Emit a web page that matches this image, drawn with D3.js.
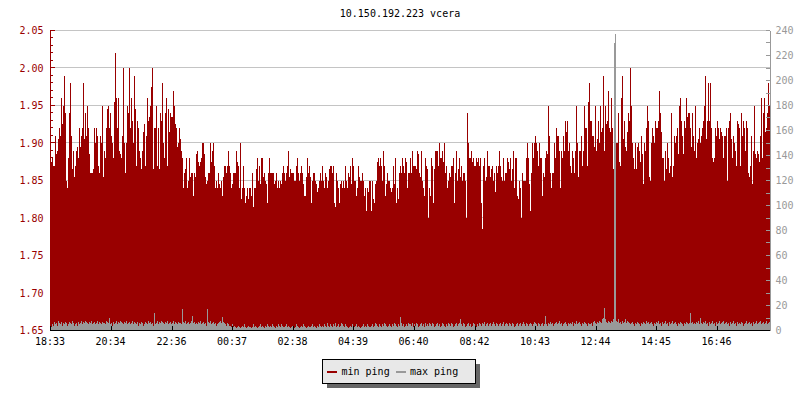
<!DOCTYPE html>
<html><head><meta charset="utf-8">
<script src="https://cdn.jsdelivr.net/npm/d3@7"></script>
<style>
body{margin:0;background:#fff}
text{font-family:"DejaVu Sans Mono",monospace;font-size:10px}
</style>
</head><body><svg id="c" width="800" height="400"></svg>
<script>
const title = "10.150.192.223 vcera";
const seriesNames = ["min ping", "max ping"];
const tickLabels = ["18:33","20:34","22:36","00:37","02:38","04:39","06:40","08:42","10:43","12:44","14:45","16:46"];
const leftTicks = [1.65,1.70,1.75,1.80,1.85,1.90,1.95,2.00,2.05];
const rightTicks = [0,20,40,60,80,100,120,140,160,180,200,220,240];
const stepMinutes = 2;
const spanMinutes = 1440;
const minPing = [
1.875,1.875,1.88,1.87,1.87,
1.91,1.885,1.89,1.905,1.92,1.91,1.96,1.925,1.95,1.99,
1.94,1.85,1.84,1.88,1.94,1.98,1.91,1.865,1.89,1.855,
1.87,1.89,1.895,1.88,1.92,1.895,1.91,1.92,1.98,1.905,
1.94,1.91,1.95,1.92,1.885,1.86,1.86,1.86,1.865,1.92,
1.90,1.92,1.91,1.87,1.86,1.91,1.90,1.95,1.855,1.89,
1.88,1.92,1.945,1.95,1.92,1.94,1.91,1.90,1.88,1.955,
2.02,1.96,1.92,1.96,1.89,1.885,1.88,1.91,2.00,1.90,
1.86,1.90,
1.95,1.94,2.00,1.92,1.96,1.93,1.90,1.99,1.945,1.87,
1.93,1.92,1.89,1.88,1.865,1.89,1.915,1.925,1.87,1.91,
1.96,1.93,1.935,1.95,1.975,2.00,1.865,1.92,1.92,1.95,
1.87,1.92,1.865,1.94,1.93,1.98,1.90,1.88,1.94,1.96,
1.87,1.945,1.915,1.94,1.935,1.935,1.97,1.95,1.925,1.92,
1.895,1.90,1.92,1.905,1.89,1.88,1.84,1.86,1.865,1.88,
1.84,1.85,1.88,1.855,1.86,1.86,1.83,1.86,1.855,1.885,
1.89,1.875,1.87,1.875,1.88,1.90,1.90,1.885,1.855,1.845,
1.85,1.86,1.86,1.90,1.875,1.89,1.90,1.87,1.84,1.85,
1.84,1.86,1.845,1.84,1.85,1.83,1.855,1.87,1.87,1.86,
1.87,1.89,1.87,
1.86,1.84,1.845,1.86,1.86,1.86,1.89,1.875,1.87,1.84,
1.90,1.825,1.84,1.87,1.84,1.82,1.83,1.84,1.825,1.84,
1.84,1.83,1.86,1.815,1.84,1.84,1.865,1.88,1.85,1.87,
1.845,1.88,1.88,1.855,1.86,1.85,1.845,1.82,1.86,1.88,
1.86,1.86,1.86,1.86,1.845,1.85,1.86,1.84,1.85,1.84,
1.85,1.845,1.86,1.87,1.86,1.85,1.86,1.87,1.89,1.855,
1.865,1.86,1.86,1.86,1.85,1.85,1.87,1.88,1.86,1.85,
1.86,1.87,1.86,1.845,1.83,1.83,1.855,1.88,1.86,1.87,
1.855,1.82,1.85,1.86,1.86,1.85,1.845,1.835,1.84,1.85,
1.86,1.85,1.87,1.85,1.84,1.86,1.855,1.84,1.85,1.865,
1.87,1.87,1.86,1.87,1.82,1.815,1.86,1.85,1.84,1.82,
1.845,1.85,1.84,1.85,1.84,1.87,1.85,1.84,1.86,1.855,
1.87,1.845,1.88,1.87,1.85,1.85,1.83,1.84,1.87,1.855,
1.85,1.85,1.86,1.85,1.83,1.84,1.81,1.84,1.835,1.85,
1.85,1.81,1.85,1.825,1.82,1.845,1.85,1.875,1.88,1.87,
1.88,1.87,1.85,1.89,1.87,1.83,1.845,1.86,1.85,1.85,
1.84,1.835,1.84,1.87,1.845,1.88,1.82,1.84,1.825,1.86,
1.87,1.86,1.88,1.87,1.86,1.88,1.875,1.84,1.86,1.86,
1.88,1.86,1.89,1.87,1.87,1.87,1.865,1.89,1.885,1.86,
1.855,1.89,1.85,1.84,1.83,1.88,1.87,1.865,1.80,1.84,
1.83,1.88,1.87,1.82,1.865,1.89,1.89,1.89,1.87,1.90,
1.88,1.88,1.89,1.875,1.90,1.86,1.87,1.84,1.85,1.86,
1.855,1.87,1.87,1.88,1.82,1.86,1.89,1.85,1.865,1.88,
1.855,1.87,1.85,1.86,1.86,1.85,1.80,1.94,1.90,1.88,
1.88,1.89,1.875,1.88,1.87,1.87,1.88,1.875,1.88,1.87,
1.88,1.82,1.785,1.87,1.88,1.85,1.855,1.89,1.87,1.87,
1.855,1.865,1.87,1.85,1.86,1.835,1.87,1.86,1.87,1.89,
1.87,1.855,1.85,1.88,1.85,1.86,1.86,1.88,1.875,1.865,
1.88,1.85,1.865,1.89,1.84,1.88,1.88,1.83,1.825,1.85,
1.84,1.80,1.86,1.85,1.85,1.85,1.88,1.90,1.88,1.845,
1.81,1.86,1.90,1.88,1.90,1.91,1.90,1.89,1.87,1.90,
1.88,1.88,1.83,1.86,1.855,1.88,1.89,1.885,1.95,1.91,
1.86,1.84,1.86,1.86,1.90,1.88,1.92,1.91,1.91,1.89,
1.84,1.89,1.88,1.91,1.89,1.93,1.915,1.93,1.89,1.90,
1.87,1.86,1.89,1.88,1.86,1.89,1.95,1.90,1.855,1.89,
1.89,1.91,1.87,1.89,1.95,1.92,1.92,1.87,1.955,1.98,
1.93,1.93,1.91,1.91,1.895,1.95,1.89,1.905,1.93,1.90,
1.95,1.915,1.92,1.99,1.89,1.95,1.925,1.93,1.97,1.92,
1.915,1.96,1.92,1.865,1.87,1.87,1.90,1.90,1.94,1.875,
1.87,1.96,1.99,1.905,1.93,1.895,1.89,1.915,1.94,1.93,
2.00,1.95,1.90,1.88,1.865,1.90,1.865,1.895,1.90,1.89,
1.875,1.91,1.885,1.845,1.90,1.89,1.92,1.95,1.93,1.855,
1.85,1.90,1.92,1.91,1.90,1.93,1.92,1.92,1.93,1.97,
1.94,1.915,1.88,1.88,1.85,1.89,1.865,1.90,1.88,1.86,
1.87,1.94,1.855,1.87,1.91,1.90,1.91,1.92,1.885,1.95,
1.96,1.93,1.91,1.885,1.93,1.92,1.96,1.935,1.94,1.94,
1.92,1.895,1.94,1.91,1.89,1.95,1.88,1.90,1.905,1.92,
1.90,1.91,1.92,1.93,1.95,1.99,1.905,1.93,1.98,1.93,
1.98,1.92,1.88,1.875,1.88,1.92,1.91,1.93,1.92,1.905,
1.92,1.915,1.91,1.88,1.91,1.91,1.92,1.85,1.92,1.93,
1.94,1.905,1.88,1.91,1.90,1.89,1.87,1.93,1.925,1.92,
1.87,1.94,1.91,1.93,1.92,1.89,1.93,1.92,1.86,1.855,
1.87,1.91,1.845,1.89,1.95,1.885,1.88,1.89,1.885,1.875,
1.91,1.96,1.88,1.94,1.96,1.915,1.92,1.94,1.98,1.95
];
const maxPing = [
5,3,6,4,7,5,6,4,8,6,5,7,4,6,5,7,6,4,5,7,
6,5,8,6,4,5,6,4,7,5,6,8,5,7,6,8,7,6,5,7,
6,8,5,6,7,5,6,8,5,7,6,5,7,6,6,5,8,7,6,10,
5,6,4,7,5,6,8,5,7,6,8,7,6,5,7,6,8,5,6,7,
5,6,8,5,7,6,5,7,4,6,5,7,6,4,5,7,6,5,8,6,
7,5,6,4,14,5,6,8,5,7,6,8,7,6,5,7,6,8,5,6,
7,5,6,8,5,7,6,5,7,6,6,5,17,7,6,8,5,6,7,5,
6,8,12,6,7,5,6,5,7,6,8,5,6,7,5,6,4,17,7,6,
8,5,6,7,5,6,4,5,6,7,8,6,11,7,6,5,4,6,5,4,
4,3,5,3,4,3,2,3,4,3,2,3,4,3,5,3,2,3,4,3,
3,2,3,5,3,4,3,2,3,4,5,3,4,3,2,4,3,5,4,3,
4,3,5,4,3,2,4,3,5,4,3,5,4,3,3,4,5,3,4,3,
2,3,4,3,2,3,5,4,3,2,3,4,3,5,4,3,2,3,4,3,
3,4,5,3,4,3,2,4,3,5,4,3,4,3,5,4,3,6,4,3,
5,4,3,5,4,6,3,4,5,3,4,6,5,4,3,5,4,3,2,3,
4,3,5,4,3,4,5,3,4,3,2,3,4,5,3,4,3,5,4,3,
3,4,5,3,4,6,5,4,3,5,4,3,5,4,6,5,4,3,4,5,
4,3,5,4,6,5,4,3,5,4,11,6,4,5,3,4,5,4,6,5,
5,4,6,3,5,4,6,5,3,4,5,6,4,5,3,6,4,5,4,6,
5,4,6,5,3,4,5,6,4,5,3,4,6,5,4,3,5,4,6,5,
4,6,5,3,4,5,6,4,5,6,9,5,4,6,5,3,4,5,6,4,
5,3,4,6,5,4,3,5,4,6,5,4,6,5,7,4,5,6,4,5,
6,4,5,7,5,4,6,5,4,5,6,4,5,7,4,5,6,5,4,6,
5,4,6,5,3,4,5,6,4,5,6,4,5,7,5,4,6,5,4,5,
6,5,4,5,7,6,5,4,6,5,4,5,6,4,5,12,5,4,6,5,
7,5,6,4,5,6,7,5,6,8,5,6,4,5,6,7,5,4,6,5,
6,5,7,4,6,5,8,5,6,7,5,4,6,5,7,6,5,4,6,5,
5,6,4,7,8,6,5,7,6,8,7,6,9,10,18,9,7,6,8,7,
6,8,7,9,230,237,8,7,9,6,7,5,8,6,7,9,6,8,7,6,
5,6,7,5,4,6,5,7,6,5,4,6,5,7,6,5,8,6,7,5,
6,7,5,4,6,5,7,6,8,5,6,4,7,5,6,8,5,6,4,7,
5,6,8,5,6,7,5,4,6,5,7,6,5,4,6,5,7,6,5,6,
14,6,7,5,6,5,7,6,8,5,10,6,5,7,6,8,5,6,4,7,
5,6,8,5,6,4,7,5,6,8,5,6,7,8,5,6,7,5,6,4,
7,5,6,8,5,6,4,7,5,6,5,7,6,4,5,6,8,5,6,7,
5,6,4,7,5,6,8,5,6,7,8,5,6,7,5,6,8,5,6,7
];

const RED = "#990000", GRAY = "#999999", GRID = "#c4c4c4";
const svg = d3.select("#c");
const L = 50, R = 770, T = 30.5, B = 330.5;

const t0 = new Date(2020, 0, 1, 18, 33);
const x = d3.scaleTime().domain([t0, d3.timeMinute.offset(t0, spanMinutes)]).range([L, R]);
const y = d3.scaleLinear().domain([1.65, 2.05]).range([B, T]);
const yR = d3.scaleLinear().domain([0, 240]).range([B, T]);

let prev = -1, day = 0;
const tickDates = tickLabels.map(s => {
  const [h, m] = s.split(":").map(Number);
  if (h * 60 + m < prev) day++;
  prev = h * 60 + m;
  return new Date(2020, 0, 1 + day, h, m);
});

const times = minPing.map((_, i) => d3.timeMinute.offset(t0, i * stepMinutes));

svg.append("text").attr("x", 400).attr("y", 17).attr("text-anchor", "middle").attr("fill", "#000").text(title);

svg.append("g").selectAll("line").data(leftTicks.filter(v => v > 1.65)).join("line")
  .attr("x1", L).attr("x2", R)
  .attr("y1", d => Math.floor(y(d)) + 0.5).attr("y2", d => Math.floor(y(d)) + 0.5)
  .attr("stroke", GRID).attr("stroke-width", 1).attr("shape-rendering", "crispEdges");

svg.append("g").attr("shape-rendering", "crispEdges").selectAll("rect").data(minPing).join("rect")
  .attr("x", (d, i) => x(times[i]))
  .attr("width", (d, i) => x(d3.timeMinute.offset(times[i], stepMinutes)) - x(times[i]))
  .attr("y", d => y(d))
  .attr("height", d => y(1.65) - y(d))
  .attr("fill", RED);

const maxData = maxPing.map((v, i) => [d3.timeMinute.offset(t0, i * stepMinutes), v]);
maxData.push([d3.timeMinute.offset(t0, maxPing.length * stepMinutes), maxPing[maxPing.length - 1]]);
svg.append("path").datum(maxData)
  .attr("d", d3.area().curve(d3.curveStepAfter).x(d => x(d[0])).y0(yR(0)).y1(d => yR(d[1])))
  .attr("fill", GRAY).attr("shape-rendering", "crispEdges");

const gl = svg.append("g").attr("shape-rendering", "crispEdges");
gl.append("line").attr("x1", L + 0.5).attr("x2", L + 0.5).attr("y1", T).attr("y2", B).attr("stroke", RED);
const minorL = d3.range(0, 41).map(k => 1.65 + k * 0.01);
gl.selectAll("line.t").data(minorL).join("line").attr("class", "t")
  .attr("x1", L).attr("x2", (d, i) => L + (i % 5 === 0 ? 5 : 3))
  .attr("y1", d => Math.floor(y(d)) + 0.5).attr("y2", d => Math.floor(y(d)) + 0.5)
  .attr("stroke", RED);
svg.append("g").selectAll("text").data(leftTicks).join("text")
  .attr("x", 43.5).attr("y", d => y(d) + 3.5).attr("text-anchor", "end").attr("fill", RED)
  .text(d => d3.format(".2f")(d));

const gr = svg.append("g").attr("shape-rendering", "crispEdges");
gr.append("line").attr("x1", R + 0.5).attr("x2", R + 0.5).attr("y1", T).attr("y2", B).attr("stroke", GRAY);
gr.selectAll("line.t").data(d3.range(0, 250, 10)).join("line").attr("class", "t")
  .attr("x1", R - 4).attr("x2", R)
  .attr("y1", d => Math.floor(yR(d)) + 0.5).attr("y2", d => Math.floor(yR(d)) + 0.5)
  .attr("stroke", GRAY);
svg.append("g").selectAll("text").data(rightTicks).join("text")
  .attr("x", 775.5).attr("y", d => yR(d) + 3.5).attr("fill", GRAY)
  .text(d => d);

const gb = svg.append("g").attr("shape-rendering", "crispEdges");
gb.append("line").attr("x1", L).attr("x2", R).attr("y1", B).attr("y2", B).attr("stroke", "#000");
gb.selectAll("line.t").data(tickDates).join("line").attr("class", "t")
  .attr("x1", d => Math.round(x(d)) + 0.5).attr("x2", d => Math.round(x(d)) + 0.5)
  .attr("y1", B - 5).attr("y2", B).attr("stroke", "#000");
svg.append("g").selectAll("text").data(tickDates).join("text")
  .attr("x", d => x(d)).attr("y", 344.5).attr("text-anchor", "middle").attr("fill", "#000")
  .text((d, i) => tickLabels[i]);

const lg = svg.append("g").attr("shape-rendering", "crispEdges");
lg.append("rect").attr("x", 327).attr("y", 364).attr("width", 153).attr("height", 24).attr("fill", "#666");
lg.append("rect").attr("x", 322.5).attr("y", 359.5).attr("width", 153).attr("height", 24).attr("fill", "#e8e8e8").attr("stroke", "#000");
const items = [[seriesNames[0], RED, 327, 341.5], [seriesNames[1], GRAY, 396, 410]];
items.forEach(([name, col, sx, tx]) => {
  lg.append("rect").attr("x", sx).attr("y", 370.5).attr("width", 10).attr("height", 2.5).attr("fill", col);
  svg.append("text").attr("x", tx).attr("y", 375).attr("fill", "#000").text(name);
});
</script>
</body></html>
